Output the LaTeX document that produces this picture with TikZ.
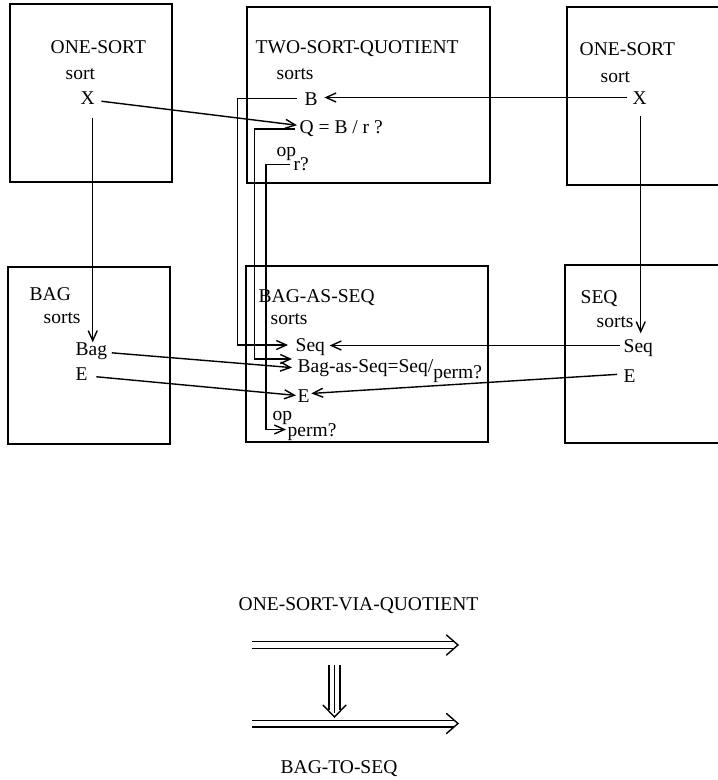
\documentclass[tikz,border=0pt]{standalone}
\usepackage{fontspec}
\setmainfont{Liberation Serif}
\usetikzlibrary{arrows.meta,calc}
\begin{document}
\begin{tikzpicture}[x=1pt,y=-1pt,line width=1.4pt,
  lbl/.style={anchor=base west,inner sep=0pt,font=\fontsize{19.5}{22}\selectfont,text height=13pt,text depth=0pt},
  arr/.style={-{Straight Barb[length=10pt,width=9pt]}},
  boxline/.style={line width=1.5pt}]
\useasboundingbox (0,0) rectangle (718,780);

% boxes
\draw[boxline] (10,4) rectangle (172,182);
\draw[boxline] (247,7) rectangle (490,183);
\draw[boxline] (718,7) -- (567,7) -- (567,185) -- (718,185);
\draw[boxline] (8,267) rectangle (170,444);
\draw[boxline] (246,266) rectangle (488,442);
\draw[boxline] (718,265) -- (565,265) -- (565,443) -- (718,443);

% ONE-SORT (left)
\node[lbl] (t1) at (50,53) {ONE-SORT};
\node[lbl] (s1) at (65,79) {sort};
\node[lbl] (X1) at (80,104) {X};

% TWO-SORT-QUOTIENT
\node[lbl] (t2) at (255,53) {TWO-SORT-QUOTIENT};
\node[lbl] (s2) at (276,79) {sorts};
\node[lbl] (B) at (304,105) {B};
\node[lbl] (Q) at (299,133) {Q = B / r ?};
\node[lbl] (op1) at (276,156) {op};
\node[lbl] (r) at (293,170) {r?};

% ONE-SORT (right)
\node[lbl] (t3) at (579,55) {ONE-SORT};
\node[lbl] (s3) at (600,82) {sort};
\node[lbl] (X2) at (632,104) {X};

% BAG
\node[lbl] (t4) at (29,300) {BAG};
\node[lbl] (s4) at (43,323) {sorts};
\node[lbl] (Bag) at (75,355) {Bag};
\node[lbl] (E1) at (75,380) {E};

% BAG-AS-SEQ
\node[lbl] (t5) at (258,302) {BAG-AS-SEQ};
\node[lbl] (s5) at (270,324) {sorts};
\node[lbl] (Seq1) at (295,351.5) {Seq};
\node[lbl] (BaS) at (297,372) {Bag-as-Seq=Seq/\raisebox{-6pt}{perm?}};
\node[lbl] (E2) at (297,402) {E};
\node[lbl] (op2) at (272,420) {op};
\node[lbl] (perm) at (287,436) {perm?};

% SEQ
\node[lbl] (t6) at (580,303) {SEQ};
\node[lbl] (s6) at (596,327) {sorts};
\node[lbl] (Seq2) at (623,352) {Seq};
\node[lbl] (E3) at (623,382) {E};

% bottom labels
\node[lbl] (vq) at (238,610) {ONE-SORT-VIA-QUOTIENT};
\node[lbl] (bs) at (280,773) {BAG-TO-SEQ};

% bend coordinates
\coordinate (cB) at (237.5,0);
\coordinate (cQ) at (254.5,0);
\coordinate (cR) at (266,0);

% connectors
\draw[arr,shorten <=6pt,shorten >=2pt] ([yshift=-3pt]X1.east) -- ([yshift=1pt]Q.west);
\draw[arr] ($(X1.south)+(5,13)$) -- ($(X1.south |- Bag.north)+(5,1)$);
\draw[arr,shorten <=5pt,shorten >=6pt] (X2.west) -- (X2.west -| B.east);
\draw[arr] ($(X2.south)+(1,11)$) -- ($(X2.south |- Seq2.north)+(1,-5)$);
\draw[arr,shorten <=7pt,shorten >=7pt] (B.west) -- (B.west -| cB) |- (Seq1.west);
\draw[arr,shorten <=4pt,shorten >=5pt] ([yshift=-2.5pt]Q.west) -- ([yshift=-2.5pt]Q.west -| cQ) |- ([yshift=6.5pt]BaS.west);
\draw[arr,shorten <=3pt,shorten >=1pt] ([yshift=-1pt]r.west) -- ([yshift=-1pt]r.west -| cR) |- (perm.west);
\draw[arr,shorten <=4pt,shorten >=5pt] ([yshift=-4pt]Bag.east) -- ([yshift=-2.5pt]BaS.west);
\draw[arr,shorten <=8pt,shorten >=1pt] ([yshift=-2.5pt]E1.east) -- (E2.west);
\draw[arr,shorten <=3pt,shorten >=4pt] (Seq2.west) -- (Seq2.west -| Seq1.east);
\draw[arr,shorten <=6pt,shorten >=1pt] ([yshift=1.5pt]E3.west) -- ([yshift=2pt]E2.east);

% 2-cell arrows
\coordinate (a1s) at (252,645);
\coordinate (a1e) at (458,645);
\coordinate (a2s) at (252,723.5);
\coordinate (a2e) at (458,723.5);
\coordinate (a3s) at (334.5,665);
\coordinate (a3e) at (334.5,717);
\foreach \s/\e in {a1s/a1e,a2s/a2e}{
  \draw ($(\s)+(0,-3.3)$) -- ($(\e)+(-4,-3.3)$);
  \draw ($(\s)+(0,3.3)$) -- ($(\e)+(-4,3.3)$);
  \draw[line cap=round,line join=miter] ($(\e)+(-11.5,-10)$) -- (\e) -- ($(\e)+(-11.5,10)$);
}
\draw (a3s) -- ($(a3e)+(0,-4)$);
\draw ($(a3s)+(-5.5,0)$) -- ($(a3e)+(-5.5,-7)$);
\draw ($(a3s)+(5.5,0)$) -- ($(a3e)+(5.5,-7)$);
\draw[line cap=round] ($(a3e)+(-11.5,-12)$) -- (a3e) -- ($(a3e)+(11.5,-12)$);
\end{tikzpicture}
\end{document}
